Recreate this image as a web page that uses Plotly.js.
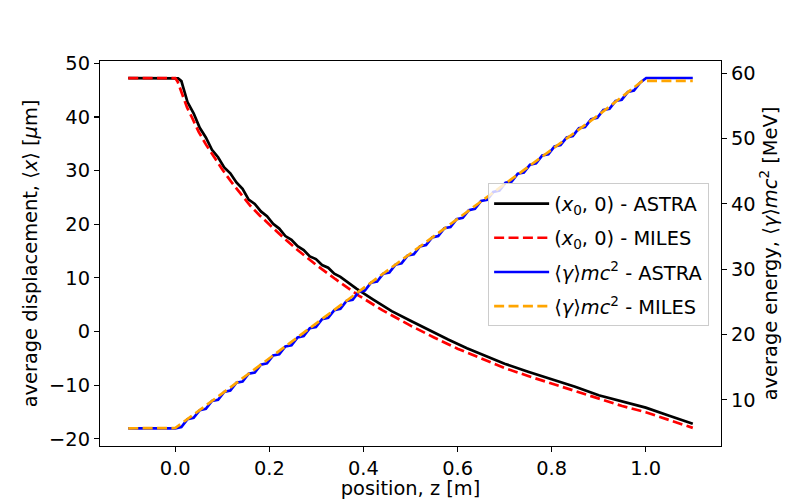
<!DOCTYPE html>
<html>
<head>
<meta charset="utf-8">
<script src="https://cdn.plot.ly/plotly-3.0.1.min.js"></script>
<style>
  html, body { margin: 0; padding: 0; background: #fff; }
  #chart { width: 800px; height: 500px; }
</style>
</head>
<body>
<div id="chart"></div>
<script>
// beam centroid, ASTRA (left axis)
const zAstraX = [-0.1, 0.0, 0.006, 0.013, 0.026, 0.039, 0.052, 0.065, 0.078, 0.091, 0.104, 0.117, 0.130,
  0.143, 0.156, 0.169, 0.182, 0.195, 0.208, 0.221, 0.234, 0.247, 0.260, 0.273, 0.286, 0.299, 0.312,
  0.325, 0.338, 0.351, 0.385, 0.420, 0.460, 0.500, 0.540, 0.580, 0.620, 0.660, 0.700, 0.750, 0.800,
  0.850, 0.900, 0.950, 1.000, 1.050, 1.100];
const xAstra = [47.26, 47.26, 47.2, 46.7, 42.8, 40.7, 38.0, 36.2, 33.9, 32.5, 30.6, 29.5, 27.8,
  26.6, 24.6, 23.8, 22.4, 21.5, 20.1, 19.2, 17.8, 17.1, 15.9, 15.2, 14.0, 13.5, 12.4,
  11.9, 10.8, 10.2, 8.0, 6.0, 3.8, 2.0, 0.2, -1.5, -3.1, -4.6, -6.0, -7.5, -8.9,
  -10.3, -11.9, -13.1, -14.2, -15.7, -17.2];

// beam centroid, MILES (left axis)
const zMilesX = [-0.1, 0.0, 0.005, 0.015, 0.025, 0.035, 0.050, 0.065, 0.080, 0.100, 0.120, 0.140, 0.160,
  0.180, 0.200, 0.230, 0.260, 0.300, 0.340, 0.390, 0.440, 0.500, 0.550, 0.600, 0.650, 0.700, 0.750,
  0.800, 0.850, 0.900, 0.950, 1.000, 1.050, 1.100];
const xMiles = [47.26, 47.26, 46.6, 44.0, 41.8, 40.0, 37.2, 34.9, 32.8, 30.2, 27.8, 25.5, 23.4,
  21.6, 19.9, 17.5, 15.2, 12.4, 9.8, 6.7, 4.0, 1.1, -1.1, -3.2, -5.0, -6.8, -8.3,
  -9.7, -11.1, -12.6, -13.9, -15.05, -16.5, -17.97];

// mean energy, ASTRA (right axis)
const zAstraE = [-0.1, 0.000, 0.013, 0.026, 0.039, 0.052, 0.065, 0.078, 0.091, 0.104, 0.117, 0.130, 0.143,
  0.156, 0.169, 0.182, 0.195, 0.208, 0.221, 0.234, 0.247, 0.260, 0.273, 0.286, 0.299, 0.312, 0.325,
  0.338, 0.351, 0.364, 0.377, 0.390, 0.403, 0.416, 0.429, 0.442, 0.455, 0.468, 0.481, 0.494, 0.507,
  0.520, 0.533, 0.546, 0.559, 0.572, 0.585, 0.598, 0.611, 0.624, 0.637, 0.650, 0.663, 0.676, 0.689,
  0.702, 0.715, 0.728, 0.741, 0.754, 0.767, 0.780, 0.793, 0.806, 0.819, 0.832, 0.845, 0.858, 0.871,
  0.884, 0.897, 0.910, 0.923, 0.936, 0.949, 0.962, 0.975, 0.988, 1.001, 1.100];
const eAstra = [5.66, 5.66, 5.86, 7.05, 7.25, 8.44, 8.64, 9.83, 10.03, 11.22, 11.42, 12.62, 12.81,
  14.01, 14.20, 15.40, 15.59, 16.79, 16.98, 18.18, 18.37, 19.57, 19.77, 20.96, 21.16, 22.35, 22.55,
  23.74, 23.94, 25.13, 25.33, 26.53, 26.72, 27.92, 28.11, 29.31, 29.50, 30.70, 30.89, 32.09, 32.28,
  33.48, 33.68, 34.87, 35.07, 36.26, 36.46, 37.65, 37.85, 39.04, 39.24, 40.44, 40.63, 41.83, 42.02,
  43.22, 43.41, 44.61, 44.80, 46.00, 46.19, 47.39, 47.59, 48.78, 48.98, 50.17, 50.37, 51.56, 51.76,
  52.95, 53.15, 54.35, 54.54, 55.74, 55.93, 57.13, 57.32, 58.52, 59.25, 59.25];

// mean energy, MILES (right axis)
const zMilesE = [-0.1, 0.0, 0.1, 0.2, 0.3, 0.4, 0.5, 0.6, 0.7, 0.8, 0.9, 0.993, 1.1];
const eMiles = [5.66, 5.70, 11.0, 16.4, 21.8, 27.1, 32.4, 37.7, 43.0, 48.2, 53.6, 58.8, 58.8];

const seriesNames = [
  '(<i>x</i><sub>0</sub>, 0) - ASTRA',
  '(<i>x</i><sub>0</sub>, 0) - MILES',
  '⟨<i>γ</i>⟩<i>mc</i><sup>2</sup> - ASTRA',
  '⟨<i>γ</i>⟩<i>mc</i><sup>2</sup> - MILES'
];

const FONT = 'DejaVu Sans, sans-serif';
const FS = 19.4;
const LW = 2.7;
const dash = '10px,4.4px';

const traces = [
  { x: zAstraX, y: xAstra, name: seriesNames[0], legendgroup: 'a', type: 'scatter', mode: 'lines',
    line: { color: '#000000', width: LW } },
  { x: zMilesX, y: xMiles, name: seriesNames[1], legendgroup: 'b', type: 'scatter', mode: 'lines',
    line: { color: '#ff0000', width: LW, dash: dash } },
  { x: zAstraE, y: eAstra, name: seriesNames[2], legendgroup: 'c', type: 'scatter', mode: 'lines', yaxis: 'y2',
    line: { color: '#0000ff', width: LW } },
  { x: zMilesE, y: eMiles, name: seriesNames[3], legendgroup: 'd', type: 'scatter', mode: 'lines', yaxis: 'y2',
    line: { color: '#ffa500', width: LW, dash: dash } }
];

const axisCommon = {
  showgrid: false, zeroline: false, showline: true, linecolor: '#000', linewidth: 1.1,
  ticks: 'outside', ticklen: 5, tickwidth: 1.1, tickcolor: '#000',
  tickfont: { family: FONT, size: FS, color: '#000' }
};

const layout = {
  width: 800, height: 500,
  margin: { l: 100, r: 79, t: 61, b: 54 },
  paper_bgcolor: '#fff', plot_bgcolor: '#fff',
  font: { family: FONT, size: FS, color: '#000' },
  xaxis: Object.assign({}, axisCommon, {
    range: [-0.16, 1.16], tickvals: [0, 0.2, 0.4, 0.6, 0.8, 1.0], tickformat: '.1f',
    mirror: true,
    title: { text: 'position, z [m]', font: { family: FONT, size: FS }, standoff: 7 }
  }),
  yaxis: Object.assign({}, axisCommon, {
    range: [-21.35, 50.45], tickvals: [-20, -10, 0, 10, 20, 30, 40, 50],
    title: { text: 'average displacement, ⟨<i>x</i>⟩ [<i>μ</i>m]', font: { family: FONT, size: FS }, standoff: 6 }
  }),
  yaxis2: Object.assign({}, axisCommon, {
    overlaying: 'y', side: 'right',
    range: [2.95, 61.85], tickvals: [10, 20, 30, 40, 50, 60],
    title: { text: 'average energy, ⟨<i>γ</i>⟩<i>mc</i><sup>2</sup> [MeV]', font: { family: FONT, size: FS }, standoff: 6 }
  }),
  legend: {
    x: 0.625, y: 0.682, xanchor: 'left', yanchor: 'top',
    traceorder: 'grouped', tracegroupgap: 6, itemwidth: 55,
    bgcolor: 'rgba(255,255,255,0.8)', bordercolor: '#cccccc', borderwidth: 1,
    font: { family: FONT, size: FS, color: '#000' }
  },
  showlegend: true
};

Plotly.newPlot('chart', traces, layout, { displayModeBar: false, staticPlot: true });
</script>
</body>
</html>
